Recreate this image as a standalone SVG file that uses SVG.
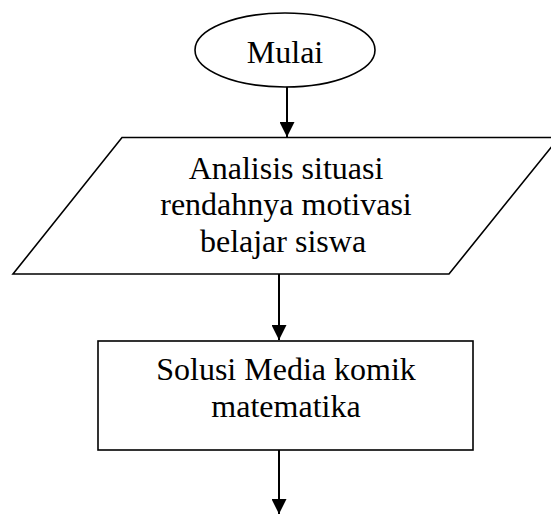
<svg xmlns="http://www.w3.org/2000/svg" width="551" height="514" viewBox="0 0 551 514">
<style>
.s{fill:#fff;stroke:#000;stroke-width:1.6}
.t{font-family:"Liberation Serif","Times New Roman",serif;font-size:32px;fill:#000;text-anchor:middle}
.c{stroke:#000;stroke-width:2;fill:none}
</style>
<defs>
<marker id="ah" markerWidth="15" markerHeight="15" refX="15" refY="7.5" orient="auto" markerUnits="userSpaceOnUse">
<path d="M0,0 L15,7.5 L0,15 Z" fill="#000"/>
</marker>
</defs>
<rect width="551" height="514" fill="#fff"/>
<g id="connectors">
<line class="c" x1="287" y1="86" x2="287" y2="137" marker-end="url(#ah)"/>
<line class="c" x1="279" y1="274" x2="279" y2="340" marker-end="url(#ah)"/>
<line class="c" x1="279" y1="450" x2="279" y2="514" marker-end="url(#ah)"/>
</g>
<g id="mulai">
<ellipse class="s" cx="285" cy="50" rx="90" ry="37"/>
<text class="t" x="285" y="63">Mulai</text>
</g>
<g id="analisis">
<polygon class="s" points="122,137.5 559,137.5 449,274 13,274"/>
<text class="t" x="286" y="179">Analisis situasi</text>
<text class="t" x="286" y="215">rendahnya motivasi</text>
<text class="t" x="283" y="252">belajar siswa</text>
</g>
<g id="solusi">
<rect class="s" x="98" y="341" width="375" height="109"/>
<text class="t" x="286" y="380">Solusi Media komik</text>
<text class="t" x="286" y="417">matematika</text>
</g>
</svg>
